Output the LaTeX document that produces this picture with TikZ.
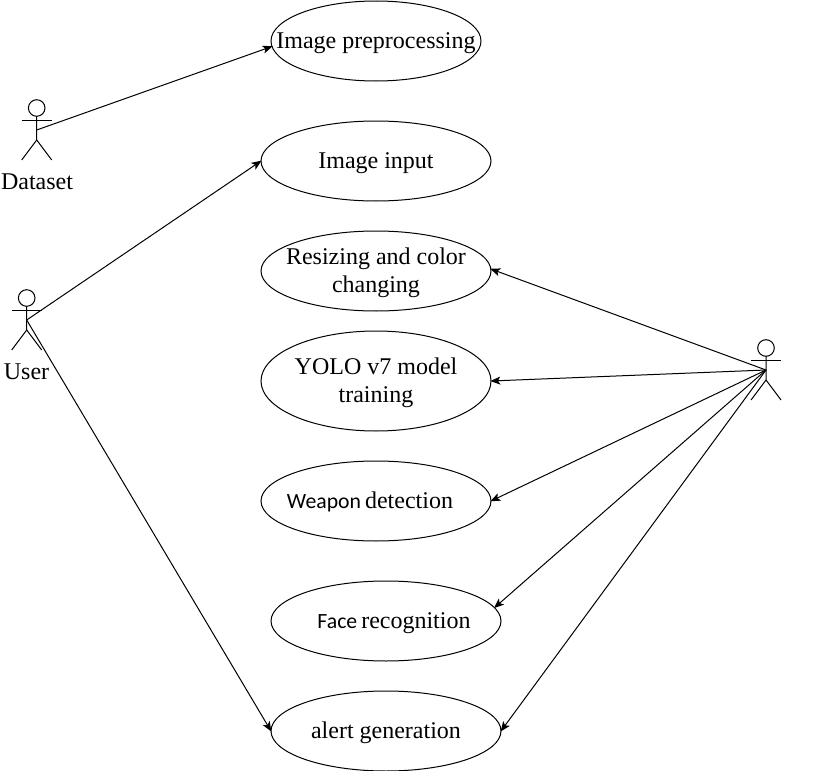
\documentclass[tikz,border=0pt]{standalone}
\usepackage{fontspec}
\setmainfont{Liberation Serif}
\newfontfamily\sansword{Carlito}
\usetikzlibrary{shapes.geometric,arrows.meta}
\tikzset{
  usecase/.style={draw=black,line width=0.75pt,ellipse,inner sep=0pt,outer sep=0pt,minimum width=#1*0.75pt,font=\fontsize{18}{21}\selectfont},
  usecase/.default=230,
  tall/.style={minimum height=100*0.75pt},
  short/.style={minimum height=80*0.75pt},
  actorname/.style={font=\fontsize{18}{21}\selectfont,inner sep=0pt},
  link/.style={draw=black,line width=0.75pt},
  arrowlink/.style={link,-{Stealth[length=7.5pt,width=6pt,inset=1.8pt]},shorten >=-0.5pt},
  figure/.style={draw=black,line width=0.75pt}
}
\newcommand{\casetext}[1]{\smash{\makebox[0pt]{\raisebox{-5.5pt}{\begin{tabular}{@{}c@{}}#1\end{tabular}}}}}
\newcommand{\sansbit}[1]{{\sansword\fontsize{16.3}{18}\selectfont #1}\kern3pt}
\newcommand{\stickfigure}[2]{%
  \draw[figure] (#1,#2-12) circle[radius=8.3];
  \draw[figure] (#1-15,#2) -- (#1+15,#2);
  \draw[figure] (#1,#2-3.7) -- (#1,#2+20) -- (#1-15,#2+40);
  \draw[figure] (#1,#2+20) -- (#1+15,#2+40);
}
\begin{document}
\begin{tikzpicture}[x=0.75pt,y=-0.75pt]
\useasboundingbox (0,0) rectangle (815,771);

\node[usecase=210,short] (prep) at (376,41) {\casetext{Image preprocessing}};
\node[usecase,short] (input) at (376,161) {\casetext{Image input}};
\node[usecase,short] (resize) at (376,271) {\casetext{Resizing and color\\changing}};
\node[usecase,tall] (yolo) at (376,381) {\casetext{YOLO v7 model\\training}};
\node[usecase,short] (weapon) at (376,501) {\casetext{\sansbit{Weapon}detection\hspace*{9pt}}};
\node[usecase=230,short] (face) at (386,621) {\casetext{\hspace*{12pt}\sansbit{Face}recognition}};
\node[usecase=230,short] (alert) at (386,731) {\casetext{alert generation}};

\stickfigure{36.7}{120}
\stickfigure{26.7}{310}
\stickfigure{766}{360}

\node[actorname] (datasetname) at (37,182) {Dataset};
\node[actorname] (username) at (26.5,372) {User};

\coordinate (dataset) at (36.7,130);
\coordinate (user) at (26.7,320);
\coordinate (operator) at (766,370);

\draw[arrowlink] (dataset) -- (prep.183.85);
\draw[arrowlink] (user) -- (input.west);
\draw[arrowlink] (user) -- (alert.west);
\draw[arrowlink] (operator) -- (resize.1.5);
\draw[arrowlink] (operator) -- (yolo.east);
\draw[arrowlink] (operator) -- (weapon.east);
\draw[arrowlink] (operator) -- (face.7.5);
\draw[arrowlink] (operator) -- (alert.0);
\end{tikzpicture}
\end{document}
